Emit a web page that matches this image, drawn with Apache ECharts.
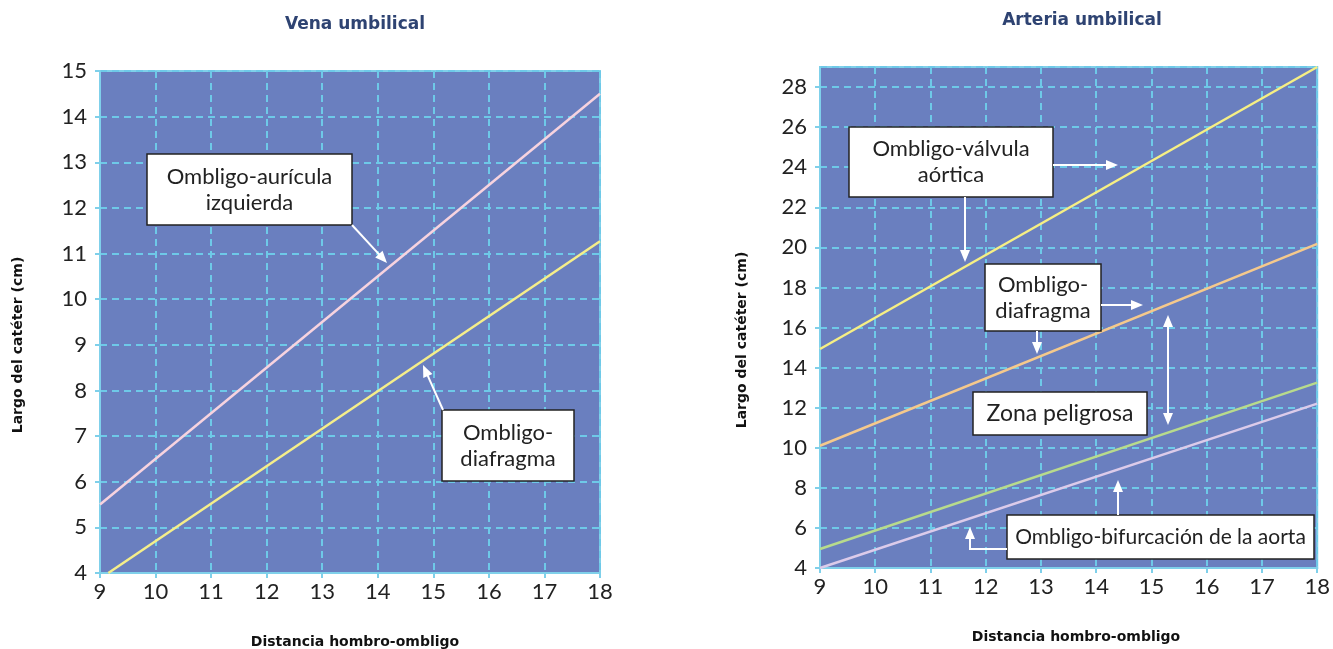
<!DOCTYPE html>
<html><head><meta charset="utf-8">
<script src="https://cdn.jsdelivr.net/npm/echarts@6/dist/echarts.min.js"></script>
<style>html,body{margin:0;padding:0;background:#fff}#c{width:1333px;height:649px}</style>
</head><body><div id="c"></div>
<script>
// Vena umbilical
const venaAuricula = [[9, 5.5], [18, 14.5]];
const venaDiafragma = [[9.15, 4], [18, 11.27]];
// Arteria umbilical
const artValvula = [[9, 14.93], [18, 29]];
const artDiafragma = [[9, 10.1], [18, 20.17]];
const artZonaSup = [[9, 4.95], [18, 13.25]];
const artBifurcacion = [[9, 4.0], [18, 12.2]];

const titles = ['Vena umbilical', 'Arteria umbilical'];
const xTitle = 'Distancia hombro-ombligo';
const yTitle = 'Largo del catéter (cm)';

const BG = '#6a7fbf', CY = '#7fd0ea', GRIDC = '#6ec9e8';
const labelFont = {fontFamily: 'Lato', fontSize: 22, color: '#222'};

function xAxis(idx) {
  return {gridIndex: idx, type: 'value', min: 9, max: 18, interval: 1,
    axisLine: {show: true, lineStyle: {color: CY, width: 2}},
    axisTick: {show: true, length: 5, lineStyle: {color: CY, width: 2}},
    axisLabel: Object.assign({margin: 8}, labelFont),
    splitLine: {show: true, lineStyle: {color: GRIDC, width: 2, type: [7, 5]}}};
}
function yAxis(idx, min, max, interval) {
  return {gridIndex: idx, type: 'value', min: min, max: max, interval: interval,
    axisLine: {show: true, lineStyle: {color: CY, width: 2}},
    axisTick: {show: true, length: 5, lineStyle: {color: CY, width: 2}},
    axisLabel: Object.assign({margin: 13, showMaxLabel: idx === 0}, labelFont),
    splitLine: {show: true, lineStyle: {color: GRIDC, width: 2, type: [7, 5]}}};
}
function line(data, color, xi) {
  return {type: 'line', data: data, xAxisIndex: xi, yAxisIndex: xi, symbol: 'none',
    clip: true, silent: true, lineStyle: {color: color, width: 2.5}, z: 3};
}

function arrowEls(x1, y1, x2, y2, both) {
  const els = [];
  const ang = Math.atan2(y2 - y1, x2 - x1);
  const L = 12, W = 5;
  function head(tx, ty, a) {
    const bx = tx - L * Math.cos(a), by = ty - L * Math.sin(a);
    const px = -Math.sin(a) * W, py = Math.cos(a) * W;
    return {type: 'polygon', z: 100, shape: {points: [[tx, ty], [bx + px, by + py], [bx - px, by - py]]},
      style: {fill: '#fff'}};
  }
  const sx = both ? x1 + (L - 2) * Math.cos(ang) : x1, sy = both ? y1 + (L - 2) * Math.sin(ang) : y1;
  els.push({type: 'line', z: 100, shape: {x1: sx, y1: sy, x2: x2 - (L - 2) * Math.cos(ang), y2: y2 - (L - 2) * Math.sin(ang)},
    style: {stroke: '#fff', lineWidth: 2}});
  els.push(head(x2, y2, ang));
  if (both) els.push(head(x1, y1, ang + Math.PI));
  return els;
}
function box(x, y, w, h, text, fs) {
  return [{type: 'rect', z: 100, shape: {x: x, y: y, width: w, height: h},
      style: {fill: '#fff', stroke: '#222', lineWidth: 1.5}},
    {type: 'text', z: 101, x: x + w / 2, y: y + h / 2,
      style: {text: text, fill: '#222', font: (fs || 22) + 'px Lato', align: 'center', verticalAlign: 'middle', lineHeight: 26}}];
}
function polyline(pts) {
  return {type: 'polyline', z: 100, shape: {points: pts}, style: {stroke: '#fff', lineWidth: 2, fill: null}};
}

const graphics = [].concat(
  box(147, 154, 205, 71, 'Ombligo-aurícula\nizquierda'),
  arrowEls(352, 225, 387, 263),
  box(442, 410, 132, 71, 'Ombligo-\ndiafragma'),
  arrowEls(443, 410, 423, 365),
  box(849, 127, 204, 70, 'Ombligo-válvula\naórtica'),
  arrowEls(1053, 165, 1118, 165),
  arrowEls(965, 197, 965, 262),
  box(985, 264, 116, 67, 'Ombligo-\ndiafragma'),
  arrowEls(1101, 305, 1143, 305),
  arrowEls(1037, 331, 1037, 354),
  arrowEls(1168, 315, 1168, 425, true),
  box(973, 392, 174, 43, 'Zona peligrosa', 23),
  box(1007, 515, 307, 44, 'Ombligo-bifurcación de la aorta', 21),
  arrowEls(1118, 515, 1118, 480),
  [polyline([[1007, 549], [970, 549], [970, 538]])],
  arrowEls(970, 545, 970, 527)
);

const tStyle = {fontFamily: 'DejaVu Sans', fontSize: 17, fontWeight: 'bold', color: '#2e4372'};
const aStyle = {fontFamily: 'DejaVu Sans', fontSize: 14, fontWeight: 'bold', color: '#111'};
const option = {
  animation: false,
  title: [
    {text: titles[0], left: 350, top: 11, textAlign: 'center', textStyle: tStyle},
    {text: titles[1], left: 1077, top: 7, textAlign: 'center', textStyle: tStyle},
    {text: xTitle, left: 350, top: 630, textAlign: 'center', textStyle: aStyle},
    {text: xTitle, left: 1071, top: 625, textAlign: 'center', textStyle: aStyle}
  ],
  grid: [
    {left: 100, right: 733, top: 71, bottom: 76, show: true, backgroundColor: BG, borderColor: CY, borderWidth: 2},
    {left: 820, right: 11, top: 67, bottom: 81, show: true, backgroundColor: BG, borderColor: CY, borderWidth: 2}
  ],
  xAxis: [xAxis(0), xAxis(1)],
  yAxis: [yAxis(0, 4, 15, 1), yAxis(1, 4, 29, 2)],
  series: [
    line(venaAuricula, '#f7d3df', 0),
    line(venaDiafragma, '#f5ee8a', 0),
    line(artValvula, '#f6ef84', 1),
    line(artDiafragma, '#f5c98c', 1),
    line(artZonaSup, '#b8db8c', 1),
    line(artBifurcacion, '#dccbea', 1)
  ],
  graphic: graphics.concat([
    {type: 'text', z: 100, x: 18, y: 345, rotation: Math.PI / 2,
      style: {text: yTitle, font: 'bold 14px "DejaVu Sans"', fill: '#111', align: 'center', verticalAlign: 'middle'}},
    {type: 'text', z: 100, x: 742, y: 340, rotation: Math.PI / 2,
      style: {text: yTitle, font: 'bold 14px "DejaVu Sans"', fill: '#111', align: 'center', verticalAlign: 'middle'}}
  ])
};
const chart = echarts.init(document.getElementById('c'));
chart.setOption(option);
</script></body></html>
